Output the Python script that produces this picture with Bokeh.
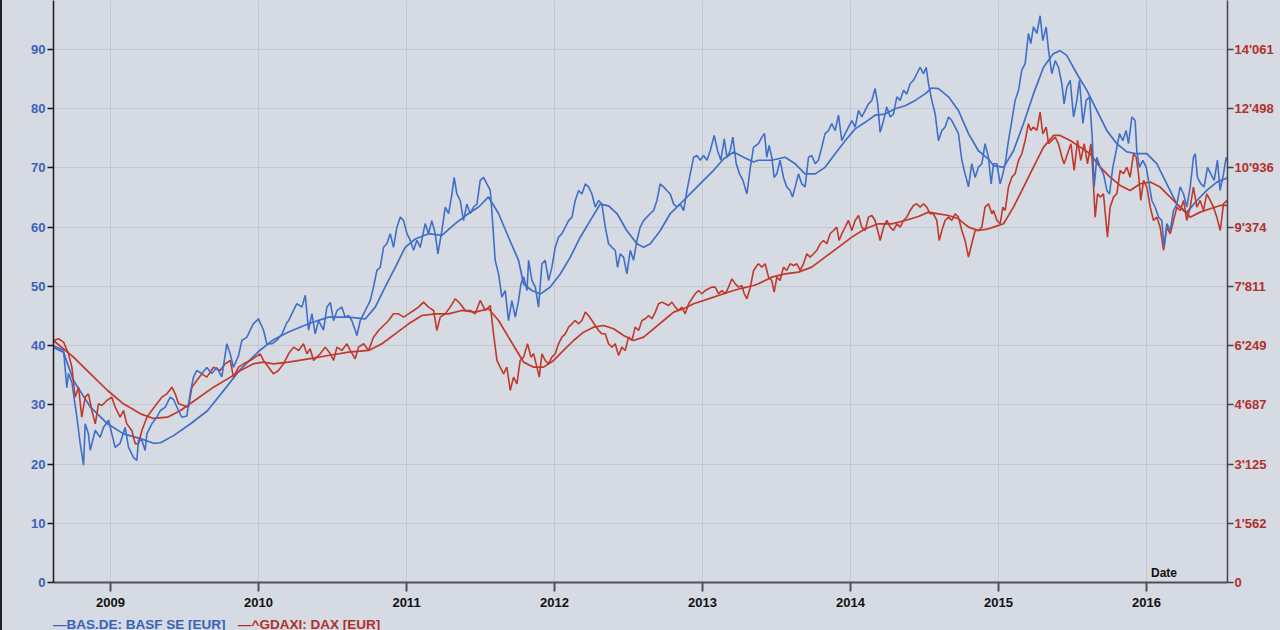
from bokeh.plotting import figure
from bokeh.layouts import column
from bokeh.models import (Range1d, LinearAxis, FixedTicker, CustomJSTickFormatter,
                          Label, ColumnDataSource, Div)
from bokeh.embed import file_html
from bokeh.resources import INLINE

# ---------------- data (x = decimal year) ----------------
year_ticks = [2009, 2010, 2011, 2012, 2013, 2014, 2015, 2016]
basf_ticks = [0, 10, 20, 30, 40, 50, 60, 70, 80, 90]
dax_tick_labels = ["0", "1'562", "3'125", "4'687", "6'249", "7'811",
                   "9'374", "10'936", "12'498", "14'061"]
series_names = ["BAS.DE: BASF SE [EUR]", "^GDAXI: DAX [EUR]"]
DAX_PER_BASF_UNIT = 156.229   # right axis / left axis scale

# BAS.DE close (EUR)
basf_close = [
    (2008.615, 40.0), (2008.683, 39.2), (2008.705, 32.9), (2008.716, 35.3), (2008.739, 33.8),
    (2008.773, 27.9), (2008.795, 23.5), (2008.818, 19.8), (2008.829, 26.8), (2008.851, 25.1),
    (2008.863, 22.3), (2008.897, 25.7), (2008.930, 24.5), (2008.953, 26.2), (2008.987, 27.4),
    (2009.009, 25.1), (2009.032, 22.8), (2009.065, 23.5), (2009.099, 26.2), (2009.122, 22.8),
    (2009.156, 21.1), (2009.178, 20.6), (2009.189, 24.0), (2009.212, 24.0), (2009.234, 22.3),
    (2009.246, 25.1), (2009.279, 26.8), (2009.313, 27.9), (2009.336, 29.0), (2009.370, 29.6),
    (2009.403, 31.3), (2009.426, 30.9), (2009.460, 29.0), (2009.482, 27.9), (2009.516, 28.1),
    (2009.538, 31.9), (2009.561, 34.7), (2009.583, 35.8), (2009.617, 35.3), (2009.651, 36.3),
    (2009.684, 35.3), (2009.718, 36.3), (2009.752, 34.7), (2009.786, 40.3), (2009.809, 38.6),
    (2009.831, 36.3), (2009.865, 38.3), (2009.888, 40.9), (2009.921, 41.4), (2009.944, 42.6),
    (2009.966, 43.7), (2010.000, 44.5), (2010.034, 42.6), (2010.056, 40.3), (2010.090, 40.3),
    (2010.124, 40.9), (2010.158, 41.9), (2010.192, 43.9),
    (2010.203, 44.2), (2010.226, 45.4), (2010.259, 47.1), (2010.293, 46.5), (2010.316, 48.5),
    (2010.338, 42.6), (2010.361, 45.4), (2010.383, 42.0), (2010.406, 44.2), (2010.439, 42.6),
    (2010.462, 46.5), (2010.485, 47.3), (2010.507, 44.2), (2010.530, 45.9), (2010.563, 46.5),
    (2010.586, 44.8), (2010.608, 45.1), (2010.631, 44.2), (2010.665, 41.7), (2010.687, 44.2),
    (2010.721, 45.9), (2010.755, 47.6), (2010.777, 49.9), (2010.800, 52.7), (2010.822, 53.2),
    (2010.845, 56.6), (2010.867, 57.2), (2010.890, 58.9), (2010.912, 56.6), (2010.935, 60.0),
    (2010.958, 61.7), (2010.980, 61.1), (2011.003, 58.9), (2011.025, 57.8), (2011.048, 56.1),
    (2011.070, 57.8), (2011.093, 56.6), (2011.126, 60.6), (2011.149, 58.9), (2011.171, 61.1),
    (2011.194, 58.9), (2011.212, 55.5), (2011.239, 59.4), (2011.262, 63.4), (2011.284, 62.3),
    (2011.307, 65.6), (2011.322, 68.4), (2011.340, 65.6), (2011.363, 64.5), (2011.385, 61.1),
    (2011.408, 63.9), (2011.430, 62.3), (2011.453, 63.4), (2011.476, 63.9), (2011.498, 67.9),
    (2011.521, 68.4), (2011.543, 67.3), (2011.566, 66.2), (2011.581, 61.1), (2011.599, 54.4),
    (2011.622, 52.1), (2011.644, 48.2), (2011.667, 49.3), (2011.689, 44.2), (2011.712, 47.6),
    (2011.735, 44.8), (2011.757, 47.6), (2011.773, 50.4),
    (2011.791, 51.6), (2011.814, 49.3), (2011.825, 54.4), (2011.847, 51.0), (2011.870, 49.9),
    (2011.892, 46.5), (2011.915, 53.8), (2011.937, 54.4), (2011.960, 51.0), (2011.982, 53.2),
    (2012.005, 56.6), (2012.027, 58.3), (2012.050, 58.9), (2012.073, 60.0), (2012.095, 61.1),
    (2012.118, 61.7), (2012.140, 64.5), (2012.163, 66.2), (2012.185, 65.6), (2012.208, 67.3),
    (2012.230, 66.8), (2012.253, 65.6), (2012.275, 63.4), (2012.298, 64.5), (2012.320, 63.9),
    (2012.343, 60.0), (2012.365, 57.2), (2012.388, 56.6), (2012.410, 56.1), (2012.426, 53.2),
    (2012.444, 55.5), (2012.467, 54.9), (2012.489, 52.1), (2012.512, 56.1), (2012.534, 54.4),
    (2012.557, 57.8), (2012.579, 60.0), (2012.602, 61.1), (2012.624, 61.7), (2012.647, 62.3),
    (2012.669, 62.8), (2012.692, 64.5), (2012.714, 67.3), (2012.737, 66.8), (2012.759, 66.2),
    (2012.782, 65.6), (2012.805, 63.9), (2012.827, 63.4), (2012.850, 63.9), (2012.872, 62.8),
    (2012.895, 66.2), (2012.917, 69.0), (2012.940, 71.8), (2012.962, 72.1), (2012.985, 71.3),
    (2013.007, 72.1), (2013.030, 71.3), (2013.052, 72.9), (2013.079, 75.5), (2013.102, 72.9),
    (2013.124, 71.3), (2013.147, 74.9), (2013.165, 71.8), (2013.187, 72.9), (2013.205, 75.2),
    (2013.228, 70.7), (2013.250, 69.0), (2013.273, 67.9), (2013.300, 65.6), (2013.323, 70.1),
    (2013.345, 73.5), (2013.378, 74.1),
    (2013.401, 75.2), (2013.419, 75.8), (2013.434, 71.8), (2013.450, 73.8), (2013.468, 71.8),
    (2013.484, 68.4), (2013.502, 69.0), (2013.524, 71.3), (2013.547, 68.4), (2013.569, 66.8),
    (2013.592, 66.2), (2013.608, 65.1), (2013.626, 66.8), (2013.648, 69.0), (2013.671, 67.3),
    (2013.693, 66.8), (2013.716, 71.8), (2013.738, 72.1), (2013.761, 70.7), (2013.783, 71.3),
    (2013.806, 73.5), (2013.828, 75.8), (2013.851, 76.3), (2013.873, 77.5), (2013.896, 76.3),
    (2013.919, 78.9), (2013.941, 74.6), (2013.964, 75.8), (2013.986, 76.9), (2014.009, 78.0),
    (2014.031, 76.9), (2014.054, 79.7), (2014.076, 78.6), (2014.099, 79.7), (2014.121, 80.8),
    (2014.144, 81.4), (2014.166, 83.4), (2014.184, 80.8), (2014.200, 76.0), (2014.223, 78.0),
    (2014.245, 80.3), (2014.268, 78.6), (2014.290, 79.1), (2014.313, 82.0), (2014.335, 81.4),
    (2014.358, 83.1), (2014.380, 82.5), (2014.403, 84.2), (2014.425, 84.8), (2014.448, 85.9),
    (2014.470, 87.0), (2014.493, 85.9), (2014.511, 87.0), (2014.527, 84.2), (2014.549, 81.4),
    (2014.572, 79.1), (2014.594, 74.6), (2014.617, 76.3), (2014.639, 76.9), (2014.662, 78.6),
    (2014.684, 78.0), (2014.707, 76.9), (2014.729, 75.8), (2014.752, 71.3), (2014.774, 69.0),
    (2014.797, 66.8), (2014.819, 70.7), (2014.842, 68.4), (2014.864, 70.1), (2014.887, 70.7),
    (2014.909, 74.1), (2014.932, 71.8), (2014.950, 67.3),
    (2014.966, 70.7), (2014.989, 70.7), (2015.011, 67.3), (2015.029, 69.0), (2015.045, 70.7),
    (2015.067, 74.6), (2015.090, 78.0), (2015.112, 81.4), (2015.135, 83.1), (2015.157, 86.5),
    (2015.180, 87.6), (2015.202, 92.7), (2015.218, 91.0), (2015.236, 93.8), (2015.259, 92.7),
    (2015.281, 95.7), (2015.299, 91.5), (2015.322, 93.8), (2015.338, 89.8), (2015.360, 85.9),
    (2015.383, 88.1), (2015.405, 87.0), (2015.428, 84.2), (2015.443, 80.8), (2015.461, 83.6),
    (2015.484, 84.8), (2015.507, 78.6), (2015.529, 81.4), (2015.547, 84.8), (2015.570, 77.5),
    (2015.592, 81.4), (2015.615, 82.0), (2015.633, 75.2), (2015.646, 66.8), (2015.664, 71.8),
    (2015.687, 70.1), (2015.709, 69.0), (2015.732, 66.2), (2015.750, 65.6), (2015.772, 70.1),
    (2015.795, 72.9), (2015.817, 75.8), (2015.840, 74.6), (2015.862, 76.3), (2015.878, 74.1),
    (2015.901, 78.6), (2015.923, 78.0), (2015.934, 72.9), (2015.952, 70.1), (2015.975, 71.3),
    (2015.998, 70.1), (2016.013, 67.9), (2016.036, 64.5), (2016.058, 63.4), (2016.081, 61.7),
    (2016.103, 61.1), (2016.119, 56.6), (2016.137, 60.6), (2016.160, 59.4), (2016.182, 62.8),
    (2016.205, 63.9), (2016.227, 66.8), (2016.250, 65.6), (2016.272, 63.4), (2016.295, 66.8),
    (2016.317, 71.8), (2016.329, 72.4), (2016.344, 68.4), (2016.367, 67.3), (2016.389, 66.8),
    (2016.412, 70.1), (2016.434, 69.0), (2016.457, 67.9), (2016.479, 71.3), (2016.497, 66.2),
    (2016.520, 69.0), (2016.538, 71.8), (2016.554, 70.7),
]

# BAS.DE moving average (EUR)
basf_ma = [
    (2008.615, 39.7), (2008.682, 38.9), (2008.750, 34.1), (2008.865, 29.6), (2008.980, 26.8),
    (2009.088, 25.1), (2009.203, 24.3), (2009.291, 23.5), (2009.338, 23.6), (2009.426, 24.8),
    (2009.541, 26.8), (2009.655, 29.0), (2009.764, 32.4), (2009.878, 36.0), (2010.000, 39.0),
    (2010.101, 41.0), (2010.203, 42.3), (2010.338, 43.7), (2010.473, 44.8), (2010.608, 44.8),
    (2010.721, 44.5), (2010.789, 46.5), (2010.856, 49.9), (2010.924, 53.2), (2010.991, 56.6),
    (2011.059, 58.0), (2011.149, 58.9), (2011.239, 58.6), (2011.329, 60.6), (2011.419, 62.3),
    (2011.487, 63.4), (2011.554, 65.1), (2011.622, 62.3), (2011.689, 58.3), (2011.757, 54.4),
    (2011.791, 50.4), (2011.847, 49.3), (2011.904, 48.7), (2011.971, 49.9), (2012.039, 52.1),
    (2012.106, 54.9), (2012.174, 58.3), (2012.241, 61.1), (2012.309, 63.9), (2012.365, 63.6),
    (2012.422, 62.3), (2012.489, 59.4), (2012.557, 57.2), (2012.602, 56.6), (2012.647, 57.2),
    (2012.714, 59.4), (2012.782, 62.3), (2012.872, 64.5), (2012.940, 66.2), (2013.007, 67.9),
    (2013.075, 69.6), (2013.142, 71.5), (2013.210, 72.7), (2013.277, 71.8), (2013.345, 71.0),
    (2013.378, 71.3), (2013.468, 71.3), (2013.558, 71.8), (2013.626, 70.7), (2013.693, 69.0),
    (2013.761, 69.0), (2013.828, 70.1), (2013.896, 72.4), (2013.964, 74.6), (2014.031, 76.6),
    (2014.099, 77.7), (2014.166, 78.9), (2014.234, 79.1), (2014.301, 80.0), (2014.369, 80.5),
    (2014.437, 81.4), (2014.504, 82.5), (2014.549, 83.5), (2014.594, 83.4), (2014.662, 82.0),
    (2014.729, 79.7), (2014.797, 75.8), (2014.864, 72.9), (2014.932, 71.5), (2014.966, 70.4),
    (2015.034, 70.1), (2015.101, 72.9), (2015.169, 77.5), (2015.236, 82.5), (2015.304, 87.0),
    (2015.371, 89.3), (2015.416, 89.8), (2015.461, 89.0), (2015.529, 85.9), (2015.597, 83.1),
    (2015.664, 79.7), (2015.732, 76.3), (2015.799, 74.1), (2015.867, 72.7), (2015.934, 72.4),
    (2016.002, 72.4), (2016.070, 70.7), (2016.137, 67.3), (2016.205, 63.9), (2016.272, 62.5),
    (2016.340, 64.5), (2016.407, 66.2), (2016.475, 67.6), (2016.554, 68.4),
]

# ^GDAXI close (index points)
dax_close = [
    (2008.615, 6384), (2008.649, 6429), (2008.683, 6340), (2008.716, 6033), (2008.739, 5680),
    (2008.761, 4889), (2008.784, 5153), (2008.806, 4361), (2008.829, 4889), (2008.851, 4977),
    (2008.874, 4537), (2008.897, 4185), (2008.919, 4713), (2008.942, 4669), (2008.975, 4801),
    (2009.009, 4889), (2009.032, 4625), (2009.065, 4361), (2009.088, 4537), (2009.110, 4185),
    (2009.144, 4010), (2009.167, 3659), (2009.189, 3659), (2009.212, 4010), (2009.246, 4361),
    (2009.279, 4537), (2009.313, 4713), (2009.347, 4889), (2009.381, 4977), (2009.415, 5153),
    (2009.437, 4977), (2009.460, 4713), (2009.493, 4669), (2009.527, 4625), (2009.550, 5153),
    (2009.583, 5329), (2009.617, 5505), (2009.651, 5417), (2009.696, 5680), (2009.741, 5593),
    (2009.775, 5769), (2009.809, 5857), (2009.831, 5417), (2009.865, 5680), (2009.899, 5769),
    (2009.944, 5857), (2009.978, 5945), (2010.011, 6033), (2010.034, 5857), (2010.068, 5680),
    (2010.101, 5505), (2010.135, 5593), (2010.169, 5769),
    (2010.203, 6033), (2010.237, 6209), (2010.271, 6121), (2010.304, 6297), (2010.327, 6033),
    (2010.349, 6165), (2010.372, 5857), (2010.394, 5945), (2010.417, 6033), (2010.451, 6209),
    (2010.485, 6033), (2010.507, 5857), (2010.530, 6209), (2010.563, 6121), (2010.597, 6297),
    (2010.620, 6121), (2010.653, 5901), (2010.676, 6209), (2010.710, 6297), (2010.744, 6121),
    (2010.777, 6472), (2010.811, 6648), (2010.845, 6780), (2010.879, 6912), (2010.912, 7088),
    (2010.946, 7088), (2010.980, 7000), (2011.014, 7088), (2011.048, 7176), (2011.081, 7264),
    (2011.115, 7396), (2011.149, 7264), (2011.183, 7176), (2011.205, 6648), (2011.228, 7000),
    (2011.262, 7088), (2011.295, 7264), (2011.329, 7484), (2011.363, 7352), (2011.397, 7176),
    (2011.430, 7176), (2011.464, 7088), (2011.498, 7440), (2011.532, 7176), (2011.566, 7308),
    (2011.588, 6560), (2011.611, 5857), (2011.633, 5681), (2011.656, 5505), (2011.678, 5681),
    (2011.701, 5065), (2011.723, 5417), (2011.746, 5241), (2011.768, 5857),
    (2011.791, 5945), (2011.818, 6297), (2011.841, 5945), (2011.859, 6033), (2011.881, 5681),
    (2011.897, 5417), (2011.915, 6033), (2011.937, 5857), (2011.960, 5769), (2011.982, 5945),
    (2012.005, 6033), (2012.027, 6297), (2012.050, 6472), (2012.073, 6560), (2012.095, 6736),
    (2012.118, 6824), (2012.140, 6912), (2012.163, 6824), (2012.185, 6912), (2012.208, 7132),
    (2012.230, 7044), (2012.253, 6912), (2012.275, 6780), (2012.298, 6648), (2012.320, 6560),
    (2012.343, 6560), (2012.365, 6297), (2012.388, 6209), (2012.410, 6297), (2012.433, 5989),
    (2012.455, 6209), (2012.478, 6121), (2012.500, 6472), (2012.523, 6384), (2012.545, 6736),
    (2012.568, 6648), (2012.591, 6912), (2012.613, 6956), (2012.636, 7044), (2012.658, 6956),
    (2012.681, 7132), (2012.703, 7352), (2012.726, 7396), (2012.748, 7352), (2012.771, 7308),
    (2012.793, 7396), (2012.816, 7264), (2012.838, 7176), (2012.861, 7264), (2012.883, 7088),
    (2012.906, 7352), (2012.928, 7484), (2012.951, 7616), (2012.973, 7703), (2012.996, 7616),
    (2013.018, 7703), (2013.041, 7747), (2013.063, 7791), (2013.086, 7791), (2013.109, 7616),
    (2013.131, 7703), (2013.154, 7616), (2013.176, 7791), (2013.199, 8011), (2013.221, 7879),
    (2013.244, 7791), (2013.266, 7835), (2013.282, 7616), (2013.300, 7484), (2013.323, 7791),
    (2013.345, 8231), (2013.368, 8363),
    (2013.378, 8407), (2013.401, 8319), (2013.423, 8407), (2013.446, 8055), (2013.468, 7967),
    (2013.484, 7660), (2013.502, 8055), (2013.524, 7967), (2013.547, 8319), (2013.569, 8231),
    (2013.592, 8407), (2013.614, 8363), (2013.637, 8407), (2013.660, 8231), (2013.682, 8407),
    (2013.705, 8671), (2013.727, 8583), (2013.750, 8671), (2013.772, 8759), (2013.795, 8935),
    (2013.817, 9023), (2013.840, 8935), (2013.862, 9199), (2013.885, 9286), (2013.907, 9374),
    (2013.923, 9023), (2013.941, 9199), (2013.964, 9374), (2013.986, 9550), (2014.009, 9286),
    (2014.031, 9550), (2014.054, 9682), (2014.076, 9374), (2014.099, 9286), (2014.121, 9638),
    (2014.144, 9682), (2014.166, 9550), (2014.189, 9199), (2014.200, 9023), (2014.223, 9374),
    (2014.245, 9550), (2014.268, 9374), (2014.290, 9286), (2014.313, 9462), (2014.335, 9374),
    (2014.358, 9550), (2014.380, 9638), (2014.403, 9814), (2014.425, 9946), (2014.448, 9990),
    (2014.470, 9902), (2014.493, 9990), (2014.515, 9902), (2014.538, 9726), (2014.560, 9726),
    (2014.583, 9550), (2014.599, 9023), (2014.617, 9286), (2014.639, 9550), (2014.662, 9638),
    (2014.684, 9550), (2014.707, 9726), (2014.729, 9638), (2014.752, 9286), (2014.774, 9023),
    (2014.797, 8583), (2014.819, 8935), (2014.842, 9286), (2014.864, 9286), (2014.887, 9374),
    (2014.909, 9902), (2014.932, 9990), (2014.955, 9726),
    (2014.966, 9814), (2014.989, 9550), (2015.011, 9462), (2015.029, 9902), (2015.045, 9814),
    (2015.067, 10430), (2015.090, 10693), (2015.112, 10781), (2015.135, 11133), (2015.157, 11309),
    (2015.180, 11661), (2015.202, 12101), (2015.218, 11925), (2015.236, 12013), (2015.259, 11925),
    (2015.281, 12409), (2015.299, 11837), (2015.322, 12013), (2015.338, 11573), (2015.360, 11661),
    (2015.383, 11749), (2015.405, 11573), (2015.428, 11221), (2015.443, 11045), (2015.466, 11309),
    (2015.489, 11573), (2015.511, 10869), (2015.534, 11661), (2015.556, 11133), (2015.579, 11573),
    (2015.601, 11045), (2015.624, 11573), (2015.635, 10957), (2015.653, 9638), (2015.669, 10254),
    (2015.687, 10166), (2015.709, 10254), (2015.736, 9111), (2015.754, 9902), (2015.777, 10166),
    (2015.799, 10254), (2015.822, 10869), (2015.844, 10781), (2015.867, 10957), (2015.889, 10693),
    (2015.912, 11309), (2015.930, 11221), (2015.946, 10781), (2015.961, 10078), (2015.980, 10605),
    (2016.002, 10430), (2016.025, 9902), (2016.047, 9550), (2016.070, 9638), (2016.092, 9374),
    (2016.115, 8759), (2016.137, 9374), (2016.160, 9199), (2016.182, 9550), (2016.205, 9902),
    (2016.227, 9814), (2016.250, 10078), (2016.272, 9550), (2016.295, 9902), (2016.317, 10430),
    (2016.340, 9902), (2016.362, 10078), (2016.385, 9814), (2016.407, 10254), (2016.430, 10078),
    (2016.452, 9902), (2016.475, 9638), (2016.498, 9286), (2016.520, 9990), (2016.543, 10078),
    (2016.554, 9902),
]

# ^GDAXI moving average (index points)
dax_ma = [
    (2008.615, 6384), (2008.750, 5945), (2008.865, 5505), (2008.980, 5065), (2009.088, 4713),
    (2009.203, 4449), (2009.291, 4327), (2009.385, 4361), (2009.473, 4538), (2009.588, 4854),
    (2009.696, 5153), (2009.811, 5418), (2009.878, 5593), (2009.966, 5769), (2010.034, 5813),
    (2010.101, 5769), (2010.203, 5813), (2010.338, 5901), (2010.473, 5989), (2010.608, 6077),
    (2010.744, 6121), (2010.834, 6297), (2010.924, 6560), (2011.014, 6824), (2011.104, 7044),
    (2011.194, 7088), (2011.284, 7088), (2011.374, 7176), (2011.464, 7132), (2011.554, 7220),
    (2011.622, 6912), (2011.689, 6472), (2011.757, 6033), (2011.791, 5813), (2011.859, 5681),
    (2011.926, 5681), (2011.994, 5857), (2012.061, 6121), (2012.129, 6384), (2012.196, 6604),
    (2012.264, 6736), (2012.332, 6780), (2012.399, 6692), (2012.467, 6516), (2012.534, 6384),
    (2012.602, 6472), (2012.669, 6692), (2012.737, 6912), (2012.805, 7132), (2012.872, 7220),
    (2012.940, 7352), (2013.007, 7440), (2013.075, 7528), (2013.142, 7616), (2013.210, 7703),
    (2013.277, 7774), (2013.345, 7835), (2013.378, 7879), (2013.468, 8055), (2013.558, 8143),
    (2013.648, 8187), (2013.738, 8319), (2013.828, 8583), (2013.919, 8847), (2014.009, 9111),
    (2014.099, 9330), (2014.189, 9462), (2014.279, 9462), (2014.369, 9550), (2014.459, 9656),
    (2014.527, 9770), (2014.594, 9726), (2014.662, 9682), (2014.729, 9594), (2014.797, 9374),
    (2014.864, 9286), (2014.932, 9330), (2014.966, 9374), (2015.034, 9462), (2015.101, 9902),
    (2015.169, 10430), (2015.236, 10957), (2015.304, 11485), (2015.371, 11793), (2015.416, 11793),
    (2015.484, 11661), (2015.552, 11485), (2015.619, 11309), (2015.687, 10957), (2015.754, 10693),
    (2015.822, 10474), (2015.889, 10342), (2015.957, 10518), (2016.025, 10562), (2016.092, 10430),
    (2016.160, 10166), (2016.227, 9902), (2016.295, 9638), (2016.362, 9770), (2016.430, 9858),
    (2016.498, 9946), (2016.554, 9946),
]

# ---------------- styling ----------------
BG = "#d6dae2"
GRID = "#c3c7cf"
BLUE = "#3f6fc8"
RED = "#c0392b"
BLUE_TXT = "#3a62b6"
RED_TXT = "#b0302e"
FONT = "Liberation Sans"

def src(pairs):
    xs, ys = zip(*pairs)
    return ColumnDataSource(dict(x=list(xs), y=list(ys)))

y_top = 98.27
p = figure(frame_width=1174, frame_height=582,
           min_border_left=51, min_border_right=53, min_border_top=0, min_border_bottom=36,
           x_range=Range1d(2008.6149, 2016.547), y_range=Range1d(0, y_top),
           output_backend="svg", toolbar_location=None,
           background_fill_color=BG, border_fill_color=BG, outline_line_color=None)

p.extra_y_ranges = {"dax": Range1d(0, y_top * DAX_PER_BASF_UNIT)}

# grid
p.xgrid.grid_line_color = GRID
p.ygrid.grid_line_color = GRID
p.xgrid.grid_line_width = 1
p.ygrid.grid_line_width = 1

# bottom axis
xa = p.xaxis[0]
xa.ticker = FixedTicker(ticks=year_ticks)
xa.axis_line_color = "#50505a"
xa.axis_line_width = 2
xa.major_tick_line_color = "#50505a"
xa.major_tick_line_width = 2
xa.major_tick_out = 9
xa.major_tick_in = 0
xa.minor_tick_line_color = None
xa.major_label_standoff = 6
xa.major_label_text_font = FONT
xa.major_label_text_font_style = "bold"
xa.major_label_text_font_size = "13px"
xa.major_label_text_color = "#111111"

# left axis
ya = p.yaxis[0]
ya.ticker = FixedTicker(ticks=basf_ticks)
ya.axis_line_color = "#1a1a1a"
ya.axis_line_width = 1.5
ya.major_tick_line_color = "#1a1a1a"
ya.major_tick_line_width = 1.5
ya.major_tick_out = 6
ya.major_tick_in = 0
ya.minor_tick_line_color = None
ya.major_label_standoff = 2
ya.major_label_text_font = FONT
ya.major_label_text_font_style = "bold"
ya.major_label_text_font_size = "13px"
ya.major_label_text_color = BLUE_TXT

# right axis (DAX)
ra = LinearAxis(y_range_name="dax",
                ticker=FixedTicker(ticks=[t * DAX_PER_BASF_UNIT for t in basf_ticks]),
                formatter=CustomJSTickFormatter(args=dict(labels=dax_tick_labels),
                                                code="return labels[index];"))
ra.axis_line_color = "#45454f"
ra.axis_line_width = 1.5
ra.major_tick_line_color = "#45454f"
ra.major_tick_line_width = 1.5
ra.major_tick_out = 6
ra.major_tick_in = 0
ra.minor_tick_line_color = None
ra.major_label_standoff = 1
ra.major_label_text_font = FONT
ra.major_label_text_font_style = "bold"
ra.major_label_text_font_size = "13px"
ra.major_label_text_color = RED_TXT
p.add_layout(ra, "right")

# lines
p.line("x", "y", source=src(basf_ma), color=BLUE, line_width=1.7)
p.line("x", "y", source=src(dax_ma), color=RED, line_width=1.7, y_range_name="dax")
p.line("x", "y", source=src(dax_close), color=RED, line_width=1.6, y_range_name="dax")
p.line("x", "y", source=src(basf_close), color=BLUE, line_width=1.6)

# "Date" caption
p.add_layout(Label(x=2016.03, y=1.52, text="Date", text_font=FONT, text_font_style="bold",
                   text_font_size="12px", text_color="#111111", text_baseline="middle"))

# legend row below the chart
legend_html = (
    f'<div style="position:relative;height:12px;width:1278px;font-family:\'{FONT}\';'
    f'font-weight:bold;font-size:13.5px;line-height:14px;white-space:nowrap;">'
    f'<span style="position:absolute;left:51px;top:0px;color:{BLUE_TXT};">\u2014{series_names[0]}</span>'
    f'<span style="position:absolute;left:236px;top:0px;color:{RED_TXT};">\u2014{series_names[1]}</span>'
    f'</div>'
)
legend = Div(text=legend_html, width=1278, height=12, margin=0,
             styles={"background-color": BG})

layout = column(p, legend, spacing=0,
                styles={"border-left": "2px solid #222222", "background-color": BG})

open("out.html", "w").write(file_html(layout, INLINE))
